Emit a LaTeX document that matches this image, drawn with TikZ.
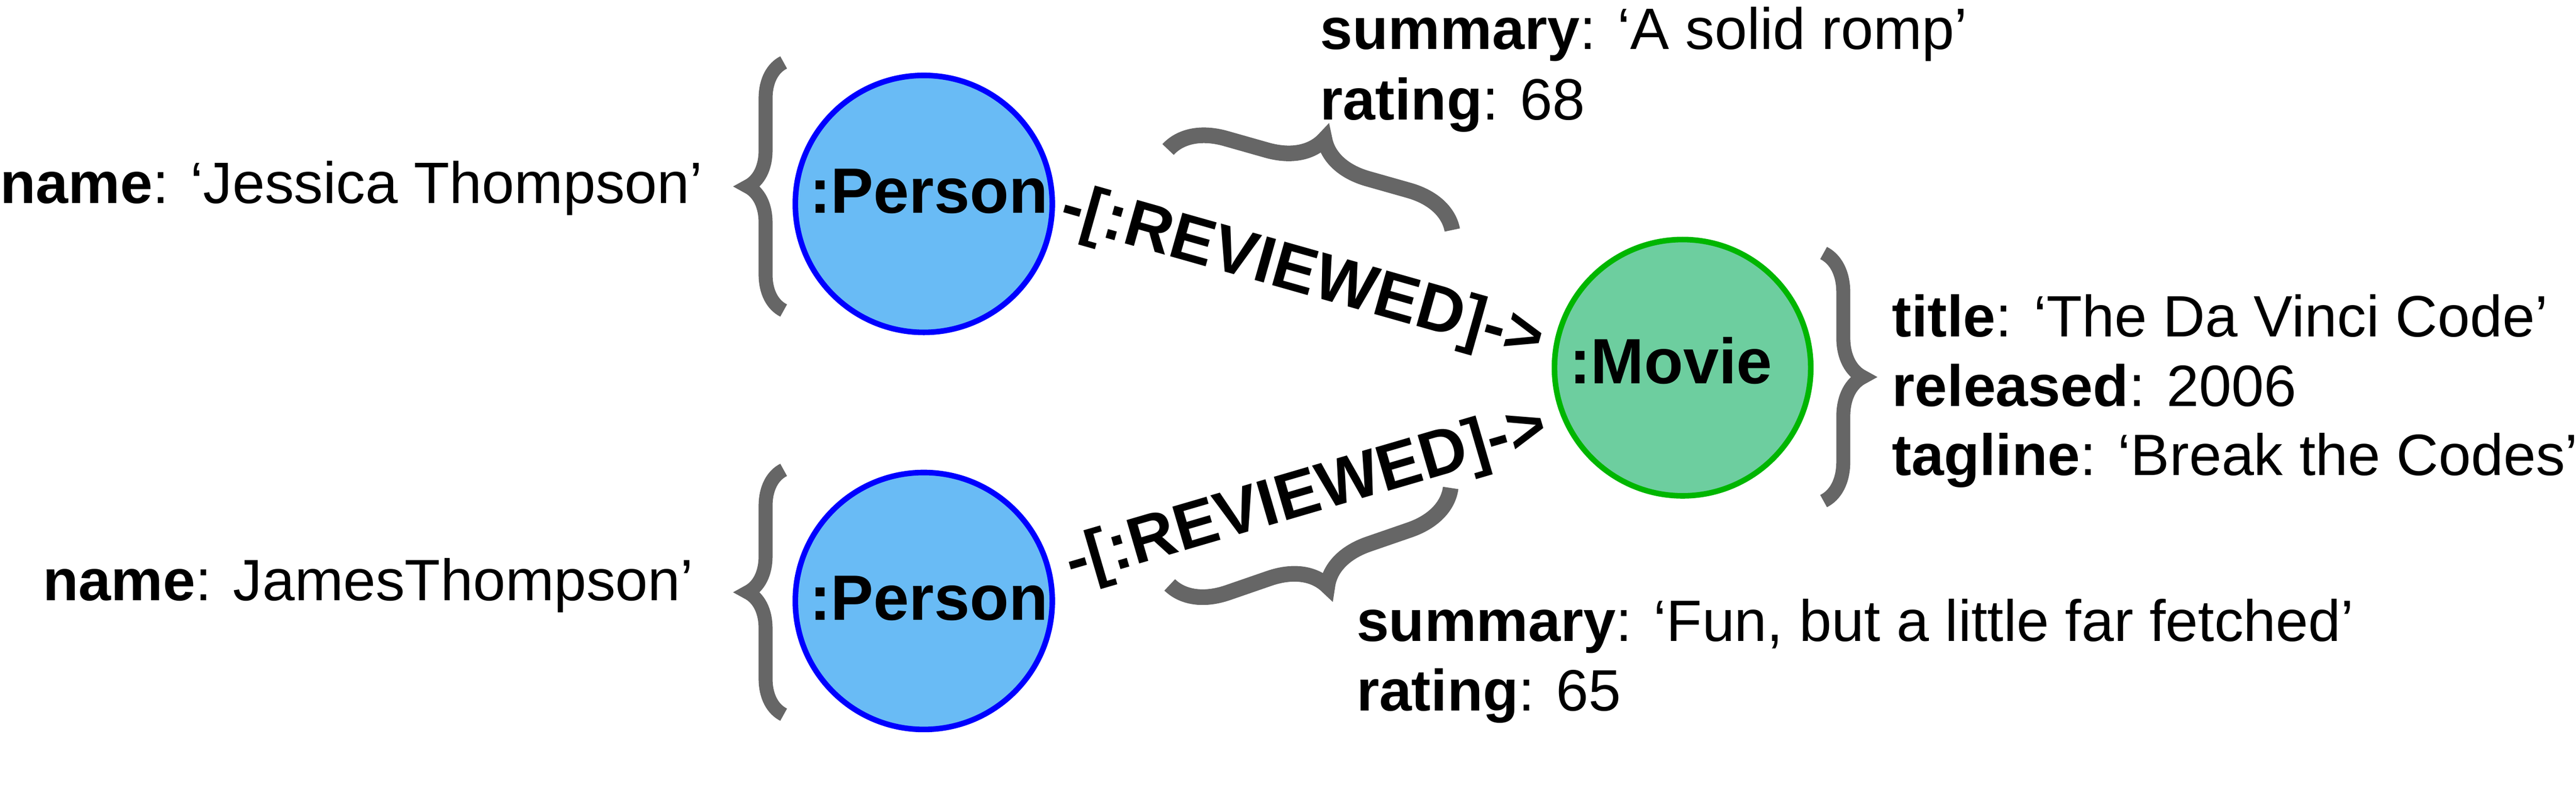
\documentclass[tikz,border=0pt]{standalone}
\usepackage{fontspec}
\setmainfont{Liberation Sans}
\usetikzlibrary{decorations.pathreplacing}
\definecolor{persfill}{HTML}{69BBF5}
\definecolor{persline}{HTML}{0000FF}
\definecolor{movfill}{HTML}{6DCE9F}
\definecolor{movline}{HTML}{00B600}
\definecolor{bracegray}{HTML}{666666}
\begin{document}
\begin{tikzpicture}[x=1pt,y=-1pt,
  prop/.style={anchor=base west, inner sep=0pt, font=\fontsize{35.5}{42}\selectfont},
  lbl/.style={anchor=base, inner sep=0pt, font=\fontsize{39}{46}\selectfont\bfseries},
  rel/.style={inner sep=0pt, font=\fontsize{40}{48}\selectfont\bfseries},
  persnode/.style={circle, draw=persline, fill=persfill, line width=3.4pt, minimum size=156.4pt, inner sep=0pt},
  movnode/.style={circle, draw=movline, fill=movfill, line width=3.4pt, minimum size=156pt, inner sep=0pt},
  brc/.style={decorate, decoration={brace, amplitude=#1}, draw=bracegray, line width=8.5pt},
]
\useasboundingbox[fill=white] (0,0) rectangle (1568,483.7);

% nodes
\node[persnode] (p1) at (562.3,124.1) {};
\node[persnode] (p2) at (562.3,365.8) {};
\node[movnode] (m) at (1024.2,223.8) {};
\node[lbl] (p1l) at (565.4,129.8) {:Person};
\node[lbl] (p2l) at (565.4,377.5) {:Person};
\node[lbl] (ml) at (1017,233.4) {:Movie};

% relationship labels
\node[rel, rotate=-15.8] (r1) at (792.4,168) {-[:REVIEWED]->};
\node[rel, rotate=16.3] (r2) at (795.4,302.5) {-[:REVIEWED]->};

% braces
\coordinate (b1a) at (477,189);
\coordinate (b1b) at (477,38);
\coordinate (b2a) at (477,435);
\coordinate (b2b) at (477,286);
\coordinate (bma) at (1110,154);
\coordinate (bmb) at (1110,305);
\coordinate (bta) at (711,91);
\coordinate (btb) at (884,140);
\coordinate (bba) at (883,297);
\coordinate (bbb) at (712,356);
\draw[brc=22] (b1a) -- (b1b);
\draw[brc=22] (b2a) -- (b2b);
\draw[brc=24] (bma) -- (bmb);
\draw[brc=32, line width=9.5pt] (bta) -- (btb);
\draw[brc=32, line width=9.5pt] (bba) -- (bbb);

% properties
\node[prop] (n1) at (0,123.8) {\textbf{name}: ‘Jessica Thompson’};
\node[prop] (n2) at (26,365.6) {\textbf{name}: JamesThompson’};
\node[prop] (s1) at (803.5,29.9) {\textbf{summary}: ‘A solid romp’};
\node[prop] (rt1) at (803.5,72.8) {\textbf{rating}: 68};
\node[prop] (s2) at (825.5,390.2) {\textbf{summary}: ‘Fun, but a little far fetched’};
\node[prop] (rt2) at (825.5,432.6) {\textbf{rating}: 65};
\node[prop] (t1) at (1151.5,205) {\textbf{title}: ‘The Da Vinci Code’};
\node[prop] (t2) at (1151.5,247.2) {\textbf{released}: 2006};
\node[prop] (t3) at (1151.5,289.4) {\textbf{tagline}: ‘Break the Codes’};
\end{tikzpicture}
\end{document}
